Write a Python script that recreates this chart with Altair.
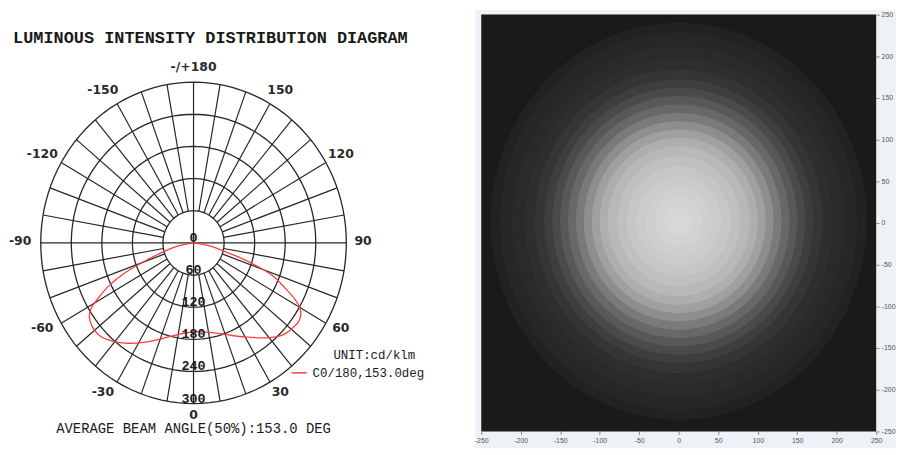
import math
import altair as alt
import pandas as pd

# ---------------- Polar diagram data ----------------
ring_radii = [60, 120, 180, 240, 300]
spoke_angles = list(range(0, 360, 10))
angle_label_values = [-150, -120, -90, -60, -30, 0, 30, 60, 90, 120, 150, 180]
angle_label_texts = ["-150", "-120", "-90", "-60", "-30", "0", "30", "60", "90", "120", "150", "-/+180"]
radius_label_values = [0, 60, 120, 180, 240, 300]

curve_angles = [-90, -79, -74, -70, -67.6, -64.3, -61, -58.6, -55.9, -51.6, -47.1, -41, -34,
                -25.4, -15.5, -7.7, 0, 10.8, 20.6, 30.5, 38.7, 45.4, 50.5, 55.1, 59.1, 61.8,
                64.7, 68.5, 70.9, 73.2, 75.6, 80, 90]
curve_values = [0, 30, 64, 107, 144, 184, 215, 236, 247, 253, 253, 243, 226,
                204, 182, 171, 166, 170, 183, 204, 227, 245, 251, 253, 245, 228,
                200, 167, 130, 94, 60, 32, 0]

title_text = "LUMINOUS INTENSITY DISTRIBUTION DIAGRAM"
unit_text = "UNIT:cd/klm"
legend_text = "C0/180,153.0deg"
beam_text = "AVERAGE BEAM ANGLE(50%):153.0 DEG"

# ---------------- Illuminance map data ----------------
heat_ticks = [-250, -200, -150, -100, -50, 0, 50, 100, 150, 200, 250]
heat_radii = [238, 226, 210, 195, 182, 170, 160, 150, 140, 130, 120, 110, 100, 90, 78, 66,
              54, 42, 30, 18, 8]
heat_grays = ["#222222", "#272727", "#2a2a2a", "#2e2e2e", "#353535", "#3e3e3e", "#4a4a4a",
              "#585858", "#686868", "#7a7a7a", "#8e8e8e", "#a0a0a0", "#aeaeae", "#b8b8b8",
              "#c0c0c0", "#c6c6c6", "#cbcbcb", "#cfcfcf", "#d3d3d3", "#d6d6d6", "#d8d8d8"]
heat_center = (0, 2)

MONO = "Liberation Mono"
SANS = "DejaVu Sans"
GRID = "#262626"
RED = "#ff3c3c"

# ---------------- Polar panel ----------------
W1, H1 = 422, 439
xs = alt.Scale(domain=[-356.5, 465.6], nice=False, zero=False)
ys = alt.Scale(domain=[-377.8, 435.2], nice=False, zero=False)

ring_rows = []
for r in ring_radii:
    for i in range(0, 121):
        a = math.radians(i * 3)
        ring_rows.append({"r": r, "i": i, "x": r * math.sin(a), "y": -r * math.cos(a)})
rings = alt.Chart(pd.DataFrame(ring_rows)).mark_line(color=GRID, strokeWidth=1.3).encode(
    x=alt.X("x:Q", scale=xs, axis=None),
    y=alt.Y("y:Q", scale=ys, axis=None),
    detail="r:N",
    order="i:Q",
)

spoke_rows = []
for a in spoke_angles:
    r0 = 0 if a % 90 == 0 else ring_radii[0]
    r1 = ring_radii[-1]
    t = math.radians(a)
    spoke_rows.append({"x": r0 * math.sin(t), "y": -r0 * math.cos(t),
                       "x2": r1 * math.sin(t), "y2": -r1 * math.cos(t)})
spokes = alt.Chart(pd.DataFrame(spoke_rows)).mark_rule(color=GRID, strokeWidth=1.2).encode(
    x=alt.X("x:Q", scale=xs, axis=None),
    y=alt.Y("y:Q", scale=ys, axis=None),
    x2="x2:Q",
    y2="y2:Q",
)

curve_df = pd.DataFrame({"angle": curve_angles, "value": curve_values,
                         "idx": list(range(len(curve_angles)))})
curve = alt.Chart(curve_df).transform_calculate(
    x="datum.value * sin(datum.angle * PI / 180)",
    y="-datum.value * cos(datum.angle * PI / 180)",
).mark_line(color=RED, strokeWidth=1.3, interpolate="catmull-rom").encode(
    x=alt.X("x:Q", scale=xs, axis=None),
    y=alt.Y("y:Q", scale=ys, axis=None),
    order="idx:Q",
)

rl_df = pd.DataFrame({"r": radius_label_values, "t": [str(v) for v in radius_label_values]})
radius_labels = alt.Chart(rl_df).transform_calculate(
    x="0", y="-datum.r"
).mark_text(font=MONO, fontSize=13.5, fontWeight="bold", color="#1a1a1a",
            baseline="middle", dy=-5).encode(
    x=alt.X("x:Q", scale=xs, axis=None),
    y=alt.Y("y:Q", scale=ys, axis=None),
    text="t:N",
)

al_df = pd.DataFrame({"a": angle_label_values, "t": angle_label_texts})


def angle_layer(cond, dx):
    return alt.Chart(al_df).transform_filter(cond).transform_calculate(
        x="325 * sin(datum.a * PI / 180)",
        y="-325 * cos(datum.a * PI / 180)",
    ).mark_text(font=SANS, fontSize=12.5, fontWeight="bold", color="#2a2a2a",
                baseline="middle", dx=dx, dy=-2).encode(
        x=alt.X("x:Q", scale=xs, axis=None),
        y=alt.Y("y:Q", scale=ys, axis=None),
        text="t:N",
    )


angle_neg = angle_layer("datum.a < 0", -8)
angle_pos = angle_layer("datum.a > 0 && datum.a < 180", 4)
angle_mid = angle_layer("datum.a == 0 || datum.a == 180", 0)

one = pd.DataFrame({"k": [0]})
title_mark = alt.Chart(pd.DataFrame({"t": [title_text]})).mark_text(
    font=MONO, fontSize=17, fontWeight="bold", color="#1a1a1a", align="center", baseline="middle"
).encode(x=alt.value(200), y=alt.value(29), text="t:N")
unit_mark = alt.Chart(pd.DataFrame({"t": [unit_text]})).mark_text(
    font=MONO, fontSize=12.5, color="#1a1a1a", align="left", baseline="middle"
).encode(x=alt.value(324), y=alt.value(348), text="t:N")
legend_mark = alt.Chart(pd.DataFrame({"t": [legend_text]})).mark_text(
    font=MONO, fontSize=12.5, color="#1a1a1a", align="left", baseline="middle"
).encode(x=alt.value(303), y=alt.value(366), text="t:N")
legend_line = alt.Chart(one).mark_rule(color=RED, strokeWidth=1.5).encode(
    x=alt.value(282), x2=alt.value(297), y=alt.value(366))
beam_mark = alt.Chart(pd.DataFrame({"t": [beam_text]})).mark_text(
    font=MONO, fontSize=14, color="#1a1a1a", align="center", baseline="middle"
).encode(x=alt.value(183), y=alt.value(423), text="t:N")

polar = alt.layer(rings, spokes, curve, radius_labels, angle_neg, angle_pos, angle_mid,
                  title_mark, unit_mark, legend_mark, legend_line, beam_mark).properties(
    width=W1, height=H1)

# ---------------- Illuminance panel ----------------
W2, H2 = 424, 442
xs2 = alt.Scale(domain=[-257.5, 275.1], nice=False, zero=False)
ys2 = alt.Scale(domain=[-270.2, 255.6], nice=False, zero=False)
ax_common = dict(values=heat_ticks, domain=False, grid=False, ticks=True, tickSize=3,
                 tickColor="#8a8a8a", labelFontSize=7, labelColor="#555555",
                 labelFont="Liberation Sans", title=None, labelExpr="'' + datum.value",
                 labelPadding=2, labelOverlap=False, labelFlush=False)
ax_x = alt.Axis(orient="bottom", offset=-17, **ax_common)
ax_y = alt.Axis(orient="right", offset=-20, **ax_common)

frame_df = pd.DataFrame({"x": [min(heat_ticks)], "x2": [max(heat_ticks)],
                         "y": [min(heat_ticks)], "y2": [max(heat_ticks)]})
frame = alt.Chart(frame_df).mark_rect(color="#1a1a1a").encode(
    x=alt.X("x:Q", scale=xs2, axis=ax_x),
    x2="x2:Q",
    y=alt.Y("y:Q", scale=ys2, axis=ax_y),
    y2="y2:Q",
)

disc_rows = []
N = 90
for k, r in enumerate(heat_radii):
    for j in range(N + 1):
        t = math.pi * j / N
        disc_rows.append({"level": k,
                          "x": heat_center[0] + r * math.cos(t),
                          "yt": heat_center[1] + r * math.sin(t),
                          "yb": heat_center[1] - r * math.sin(t)})
disc_df = pd.DataFrame(disc_rows)

disc_layers = []
for k, g in enumerate(heat_grays):
    disc_layers.append(
        alt.Chart(disc_df).transform_filter(alt.datum.level == k).mark_area(
            color=g, opacity=1, strokeWidth=0).encode(
            x=alt.X("x:Q", scale=xs2, axis=ax_x),
            y=alt.Y("yt:Q", scale=ys2, axis=ax_y),
            y2="yb:Q",
        )
    )

heat = alt.layer(frame, *disc_layers).properties(
    width=W2, height=H2, view=alt.ViewBackground(fill="#eef1f6", stroke=None))

chart = alt.hconcat(polar, heat, spacing=43).properties(padding=0).configure_view(stroke=None)

chart.save("out.html", embed_options={"renderer": "svg", "actions": False})
